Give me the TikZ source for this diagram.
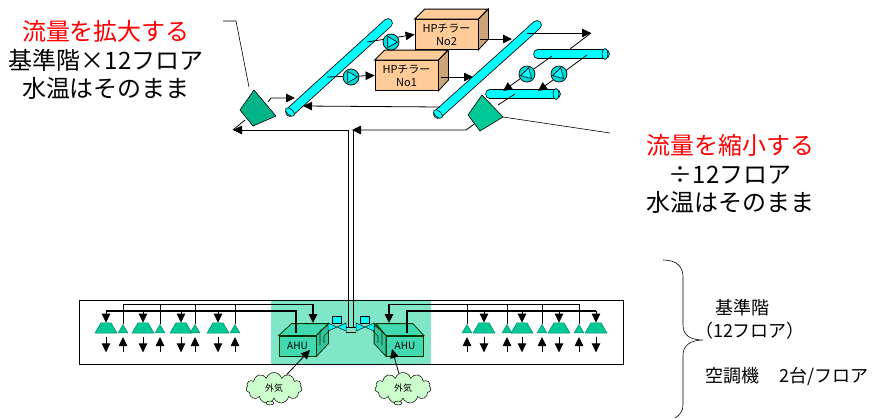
\documentclass[tikz,border=0pt]{standalone}
\usepackage{fontspec}
\setmainfont{Noto Sans CJK JP}
\usetikzlibrary{arrows.meta, positioning, shapes.geometric, shapes.symbols}

\definecolor{tubecyan}{HTML}{00FFFF}
\definecolor{coolteal}{HTML}{00C896}
\definecolor{ahuteal}{HTML}{40D9B0}
\definecolor{ahuside}{HTML}{33C49E}
\definecolor{zoneteal}{HTML}{80E6C8}
\definecolor{chillerface}{HTML}{FFCC99}
\definecolor{chillerside}{HTML}{CCA477}
\definecolor{cloudgreen}{HTML}{CCFFCC}

\tikzset{
	tube/.style={double=tubecyan, double distance=8pt, line width=0.8pt, line cap=round},
	tubeend/.style={ellipse, draw, fill=tubecyan, line width=0.6pt, minimum width=6pt, minimum height=11pt, inner sep=0pt},
	chiller/.style={rectangle, draw, fill=chillerface, line width=0.8pt, minimum width=63pt, minimum height=30pt, inner sep=0pt, align=center, font=\fontsize{11}{13}\selectfont},
	pump/.style={circle, draw, fill=tubecyan!85!black, line width=0.7pt, minimum size=16pt, inner sep=0pt},
	pumptip/.style={regular polygon, regular polygon sides=3, draw, fill=tubecyan, line width=0.6pt, minimum size=13pt, inner sep=0pt},
	unit/.style={trapezium, trapezium left angle=60, trapezium right angle=60, draw=coolteal!70!black, fill=coolteal, line width=0.5pt, minimum width=22pt, minimum height=10pt, inner sep=0.5pt},
	vent/.style={regular polygon, regular polygon sides=3, draw=coolteal!70!black, fill=coolteal, line width=0.5pt, minimum size=11pt, inner sep=0pt},
	ahu/.style={rectangle, draw=black!80!green, fill=ahuteal, line width=0.8pt, minimum width=37pt, minimum height=20pt, inner sep=0pt, font=\fontsize{10}{12}\selectfont},
	valvebox/.style={rectangle, draw, fill=tubecyan, line width=0.5pt, minimum width=9pt, minimum height=7pt, inner sep=0pt},
	outside/.style={cloud, cloud puffs=11, aspect=1.8, draw, fill=cloudgreen, line width=0.5pt, minimum width=56pt, minimum height=31pt, inner sep=0pt, font=\fontsize{9}{11}\selectfont},
	swirl/.style={ellipse, draw, fill=cloudgreen, line width=0.5pt, minimum width=8pt, minimum height=4pt, inner sep=0pt},
	bigtext/.style={align=center, font=\fontsize{24}{28.5}\selectfont},
	smalltext/.style={inner sep=0pt, font=\fontsize{18}{20}\selectfont},
}

\begin{document}
\begin{tikzpicture}[x=1pt, y=-1pt, >={Triangle[length=9pt,width=8.5pt]}, line width=0.8pt]
	\useasboundingbox (0,0) rectangle (873,418);
	
	% Floor
	\node[draw, line width=0.8pt, minimum width=544pt, minimum height=64pt, inner sep=0pt] (floor) at (351,332) {};
	\node[fill=zoneteal, minimum width=160pt, minimum height=63pt, inner sep=0pt] (zone) at (351,332) {};
	
	% Tubes
	\coordinate (Ta1) at (290,112);
	\coordinate (Ta2) at (388,23);
	\coordinate (Tb1) at (438,114);
	\coordinate (Tb2) at (537,25);
	\coordinate (Tc1) at (538,54);
	\coordinate (Tc2) at (605,54);
	\coordinate (Td1) at (490,94);
	\coordinate (Td2) at (556,94);
	\draw[tube] (Ta1) -- (Ta2);
	\draw[tube] (Tb1) -- (Tb2);
	\draw[tube] (Tc1) -- (Tc2);
	\draw[tube] (Td1) -- (Td2);
	\node[tubeend, rotate=48] (Ea) at (Ta1) {};
	\node[tubeend, rotate=48] (Eb) at (Tb1) {};
	\node[tubeend] (Ec) at (Tc2) {};
	\node[tubeend] (Ed) at (Td2) {};
	
	% Chillers
	\node[chiller] (H2) at (446.5,34.5) {HPチラー\\No2};
	\draw[fill=chillerface] (H2.north west) -- ++(10,-10) -- ++(63,0) -- (H2.north east) -- cycle;
	\draw[fill=chillerside] (H2.north east) -- ++(10,-10) -- ++(0,30) -- (H2.south east) -- cycle;
	\node[chiller] (H1) at (406.5,75.5) {HPチラー\\No1};
	\draw[fill=chillerface] (H1.north west) -- ++(10,-10) -- ++(63,0) -- (H1.north east) -- cycle;
	\draw[fill=chillerside] (H1.north east) -- ++(10,-10) -- ++(0,30) -- (H1.south east) -- cycle;
	
	% Pipes
	\coordinate (Pa) at (367,42);
	\coordinate (Pb) at (327,77);
	\coordinate (Qa) at (480,39);
	\coordinate (Qb) at (512,39);
	\coordinate (Qc) at (441,77);
	\coordinate (Qd) at (473,77);
	\coordinate (Ra) at (527,33);
	\coordinate (Rb) at (591,33);
	\coordinate (Rc) at (570,49);
	\coordinate (Sa) at (552,56);
	\coordinate (Sb) at (503,91);
	\coordinate (Sc) at (587,55);
	\coordinate (Sd) at (538,91);
	\coordinate (Ua) at (268,102);
	\coordinate (Ub) at (271,98);
	\coordinate (Uc) at (295,98);
	\coordinate (Va) at (440,107);
	\coordinate (Vb) at (303,106);
	\coordinate (Wa) at (498,105);
	\coordinate (Wb) at (515,94);
	\coordinate (Xa) at (477,122);
	\coordinate (Xb) at (466,130);
	\coordinate (Xc) at (352,130);
	\coordinate (Ya) at (348,130);
	\coordinate (Yb) at (233,130);
	\coordinate (Yc) at (245,120);
	\coordinate (Za) at (348,327);
	\coordinate (Zb) at (353,327);
	\coordinate (Zc) at (353,131);
	\draw[->] (Pa) -- (H2.west);
	\draw[->] (Pb) -- (H1.west);
	\draw[->] (Qa) -- (Qb);
	\draw[->] (Qc) -- (Qd);
	\draw[->] (Ra) -- (Rb);
	\draw (Rc) -- (Rb);
	\draw[->] (Sa) -- (Sb);
	\draw[->] (Sc) -- (Sd);
	\draw[->] (Ua) -- (Ub) -- (Uc);
	\draw[->] (Va) -- (Vb);
	\draw (Wa) -- (Wb);
	\draw[->] (Xa) -- (Xb) -- (Xc);
	\draw[->] (Ya) -- (Yb);
	\draw (Yb) -- (Yc);
	\draw[line width=0.6pt] (Ya) -- (Za);
	\draw[line width=0.6pt] (Zc) -- (Zb);
	
	% Pumps
	\node[pump] (P1) at (391,42) {};
	\node[pumptip, shape border rotate=-90] (P1t) at (391,42) {};
	\node[pump] (P2) at (351,77) {};
	\node[pumptip, shape border rotate=-90] (P2t) at (351,77) {};
	\node[pump] (P3) at (527,74) {};
	\node[pumptip, shape border rotate=-135] (P3t) at (527,74) {};
	\node[pump] (P4) at (559,74) {};
	\node[pumptip, shape border rotate=-135] (P4t) at (559,74) {};
	
	% Fans
	\coordinate (Fa1) at (254,90);
	\coordinate (Fa2) at (276,116);
	\coordinate (Fa3) at (253,126);
	\coordinate (Fa4) at (240,110);
	\coordinate (Fb1) at (482,95);
	\coordinate (Fb2) at (503,117);
	\coordinate (Fb3) at (480,131);
	\coordinate (Fb4) at (468,115);
	\draw[fill=coolteal!90!black, line width=0.6pt] (Fa1) -- (Fa2) -- (Fa3) -- (Fa4) -- cycle;
	\draw[fill=coolteal, line width=0.6pt] (Fb1) -- (Fb2) -- (Fb3) -- (Fb4) -- cycle;
	
	% Leaders
	\coordinate (La) at (223,21);
	\coordinate (Lb) at (236,21);
	\coordinate (Lc) at (249,87);
	\coordinate (Ld) at (610,133);
	\draw[line width=0.6pt] (La) -- (Lb) -- (Lc);
	\draw[line width=0.6pt] (Fb2) -- (Ld);
	
	% AHU
	\node[ahu] (A1) at (297.5,346) {AHU};
	\draw[draw=black!80!green, fill=ahuteal] (A1.north west) -- ++(13,-12) -- ++(37,0) -- (A1.north east) -- cycle;
	\draw[draw=black!80!green, fill=ahuside] (A1.north east) -- ++(12,-12) -- ++(0,20) -- (A1.south east) -- cycle;
	\node[ahu] (A2) at (405,346) {AHU};
	\draw[draw=black!80!green, fill=ahuteal] (A2.north east) -- ++(-11,-12) -- ++(-37,0) -- (A2.north west) -- cycle;
	\draw[draw=black!80!green, fill=ahuside] (A2.north west) -- ++(-12,-12) -- ++(0,20) -- (A2.south west) -- cycle;
	
	% Valves
	\node[valvebox] (V1) at (337,320) {};
	\node[valvebox] (V2) at (365,320) {};
	\draw[fill=tubecyan, line width=0.5pt] (328,323) -- (346,331) -- (346,323) -- (328,331) -- cycle;
	\draw[fill=tubecyan, line width=0.5pt] (356,323) -- (374,331) -- (374,323) -- (356,331) -- cycle;
	\draw[line width=0.6pt] (346,327) -- (356,327);
	\draw[line width=0.6pt] (346,332) -- (356,332);
	\draw[line width=0.6pt, draw=black!80!green] (328,325) -- (320,331) -- (320,345);
	\draw[line width=0.6pt, draw=black!80!green] (329,331) -- (324,336) -- (324,343);
	\draw[line width=0.6pt, draw=black!80!green] (374,325) -- (382,331) -- (382,345);
	\draw[line width=0.6pt, draw=black!80!green] (373,331) -- (378,336) -- (378,343);
	
	% Headers
	\coordinate (HLa) at (123,304);
	\coordinate (HLb) at (313,304);
	\coordinate (HLc) at (313,323);
	\coordinate (HLd) at (106,311);
	\coordinate (HLe) at (296,311);
	\coordinate (HLf) at (296,333);
	\coordinate (HRa) at (579,304);
	\coordinate (HRb) at (389,304);
	\coordinate (HRc) at (389,323);
	\coordinate (HRd) at (596,311);
	\coordinate (HRe) at (407,311);
	\coordinate (HRf) at (407,333);
	\draw (HLa) -- (HLb);
	\draw[->, line width=1.5pt] (HLb) -- (HLc);
	\draw[line width=1.5pt] (HLd) -- (HLe) -- (HLf);
	\draw (HRa) -- (HRb);
	\draw[->, line width=1.5pt] (HRb) -- (HRc);
	\draw[line width=1.5pt] (HRd) -- (HRe) -- (HRf);
	
	% Units
	\node[unit] (U1) at (106,328) {};
	\node[unit] (U2) at (143,328) {};
	\node[unit] (U3) at (181,328) {};
	\node[unit] (U4) at (218,328) {};
	\node[unit] (U5) at (484,328) {};
	\node[unit] (U6) at (522,328) {};
	\node[unit] (U7) at (559,328) {};
	\node[unit] (U8) at (596,328) {};
	\node[vent] (T1) at (123,330) {};
	\node[vent] (T2) at (160,330) {};
	\node[vent] (T3) at (195,330) {};
	\node[vent] (T4) at (235,330) {};
	\node[vent] (T5) at (467,330) {};
	\node[vent] (T6) at (507,330) {};
	\node[vent] (T7) at (542,330) {};
	\node[vent] (T8) at (579,330) {};
	
	% Unit edges
	\draw[->] (U1 |- HLd) -- (U1);
	\draw[->] (U2 |- HLd) -- (U2);
	\draw[->] (U3 |- HLd) -- (U3);
	\draw[->] (U4 |- HLd) -- (U4);
	\draw[->] (U5 |- HRd) -- (U5);
	\draw[->] (U6 |- HRd) -- (U6);
	\draw[->] (U7 |- HRd) -- (U7);
	\draw[->] (U8 |- HRd) -- (U8);
	\draw (T1 |- HLa) -- (T1.north);
	\draw (T2 |- HLa) -- (T2.north);
	\draw (T3 |- HLa) -- (T3.north);
	\draw (T4 |- HLa) -- (T4.north);
	\draw (T5 |- HRa) -- (T5.north);
	\draw (T6 |- HRa) -- (T6.north);
	\draw (T7 |- HRa) -- (T7.north);
	\draw (T8 |- HRa) -- (T8.north);
	\draw[->] (U1.south) ++(0,4) -- ++(0,15);
	\draw[->] (U2.south) ++(0,4) -- ++(0,15);
	\draw[->] (U3.south) ++(0,4) -- ++(0,15);
	\draw[->] (U4.south) ++(0,4) -- ++(0,15);
	\draw[->] (U5.south) ++(0,4) -- ++(0,15);
	\draw[->] (U6.south) ++(0,4) -- ++(0,15);
	\draw[->] (U7.south) ++(0,4) -- ++(0,15);
	\draw[->] (U8.south) ++(0,4) -- ++(0,15);
	\draw[<-] (T1.south) ++(0,4) -- ++(0,15);
	\draw[<-] (T2.south) ++(0,4) -- ++(0,15);
	\draw[<-] (T3.south) ++(0,4) -- ++(0,15);
	\draw[<-] (T4.south) ++(0,4) -- ++(0,15);
	\draw[<-] (T5.south) ++(0,4) -- ++(0,15);
	\draw[<-] (T6.south) ++(0,4) -- ++(0,15);
	\draw[<-] (T7.south) ++(0,4) -- ++(0,15);
	\draw[<-] (T8.south) ++(0,4) -- ++(0,15);
	
	% Outside air
	\node[outside] (C1) at (274,388) {外気};
	\node[outside] (C2) at (403,388) {外気};
	\node[swirl] (D1) at (270,403) {};
	\node[swirl] (D2) at (398,403) {};
	\coordinate (Aa) at (310,350);
	\coordinate (Ab) at (392,349);
	\draw[->] (C1) -- (Aa);
	\draw[->] (C2) -- (Ab);
	
	% Brace
	\coordinate (Ba) at (663,260);
	\coordinate (Bb) at (703,340);
	\coordinate (Bc) at (675,418);
	\draw[line width=0.6pt] (Ba) .. controls (677,260) and (683,267) .. (683,277) -- (683,325) .. controls (683,335) and (690,340) .. (Bb) .. controls (690,340) and (683,346) .. (683,355) -- (683,405) .. controls (683,411) and (680,415) .. (Bc);
	
	% Labels
	\node[bigtext] (Ltop) at (106,60) {{\color{red}流量を拡大する}\\基準階×12フロア\\水温はそのまま};
	\node[bigtext] (Rtop) at (730,174) {{\color{red}流量を縮小する}\\÷12フロア\\水温はそのまま};
	\node[smalltext] (Fname) at (742,308) {基準階};
	\node[smalltext] (Fcount) at (750,331) {（12フロア）};
	\node[smalltext, anchor=west] (Acount) at (705,377) {空調機\hspace{1.1em}2台/フロア};
	
\end{tikzpicture}
\end{document}
